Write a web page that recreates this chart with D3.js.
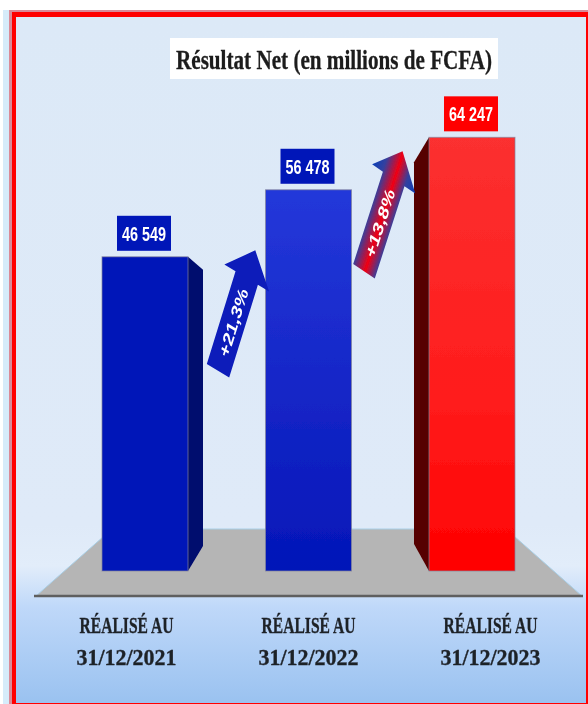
<!DOCTYPE html>
<html>
<head>
<meta charset="utf-8">
<script src="https://cdn.jsdelivr.net/npm/d3@7"></script>
<style>
  html, body { margin: 0; padding: 0; background: #fff; }
  svg { display: block; }
  text { font-family: "Liberation Serif", serif; font-weight: bold; }
  .val, .growth { font-family: "Liberation Sans", sans-serif; fill: #fff; }
</style>
</head>
<body>
<svg width="588" height="704"></svg>
<script>
var periods = ["31/12/2021", "31/12/2022", "31/12/2023"];
var values = [46549, 56478, 64247];
var valueLabels = ["46 549", "56 478", "64 247"];
var growthLabels = ["+21,3%", "+13,8%"];
var categoryPrefix = "RÉALISÉ AU";
var title = "Résultat Net (en millions de FCFA)";

var svg = d3.select("svg"),
    defs = svg.append("defs");

var x = d3.scaleBand().domain(periods).range([102, 515]).paddingInner(0.474);
var y = d3.scaleLinear().domain([0, 70000]).range([571, 98.5]);
var xLabel = d3.scalePoint().domain(periods).range([126, 490]);

function linearGradient(id, stops, attrs) {
  var g = defs.append("linearGradient").attr("id", id);
  Object.keys(attrs).forEach(function(k) { g.attr(k, attrs[k]); });
  stops.forEach(function(s) {
    g.append("stop").attr("offset", s[0]).attr("stop-color", s[1]);
  });
}

var vertical = {x1: 0, y1: 0, x2: 0, y2: 1};
linearGradient("bg", [[0, "#dce9f7"], [0.74, "#dfeaf8"], [0.80, "#e2edfa"], [0.86, "#bfd8f9"], [1, "#9ac2f0"]], vertical);
linearGradient("bar1", [[0, "#0316b8"], [1, "#0316b8"]], vertical);
linearGradient("bar2", [[0, "#2438da"], [0.5, "#1627c8"], [1, "#0316b8"]], vertical);
linearGradient("bar3", [[0, "#fb3030"], [0.6, "#ff1c1c"], [1, "#ff0000"]], vertical);
linearGradient("arrowRed", [[0, "#0b3fb8"], [0.24, "#33409f"], [0.52, "#f20012"], [0.76, "#33409f"], [1, "#0b3fb8"]],
  {gradientUnits: "userSpaceOnUse", x1: 0, y1: -26, x2: 0, y2: 26});

var blur = defs.append("filter").attr("id", "soft")
  .attr("filterUnits", "userSpaceOnUse")
  .attr("x", 0).attr("y", 0)
  .attr("width", 588).attr("height", 704);
blur.append("feGaussianBlur").attr("stdDeviation", 0.6);

var g = svg.append("g").attr("filter", "url(#soft)");

// frame
g.append("rect").attr("width", 588).attr("height", 704).attr("fill", "#fff");
g.append("rect").attr("x", 3).attr("y", 10).attr("width", 7).attr("height", 694).attr("fill", "#d6ebfa");
g.append("rect").attr("x", 9).attr("y", 10).attr("width", 579).attr("height", 694).attr("fill", "#d98a98");
g.append("rect").attr("x", 12).attr("y", 12).attr("width", 576).attr("height", 692).attr("fill", "#ff0000");
g.append("rect").attr("x", 16).attr("y", 17).attr("width", 570).attr("height", 686).attr("fill", "url(#bg)");

// floor
var floorY = y(0) + 25, floorTop = y(0) - 42;
g.append("path")
  .attr("d", d3.line()([[36, floorY], [112, floorTop], [506, floorTop], [582, floorY]]) + "Z")
  .attr("fill", "#b5b5b5")
  .attr("stroke", "#a9cfe6")
  .attr("stroke-width", 1);
g.append("line")
  .attr("x1", 34).attr("x2", 583).attr("y1", floorY).attr("y2", floorY)
  .attr("stroke", "#5f5f5f").attr("stroke-width", 2.6);

// side faces, the first bar on its right and the last one on its left
function sideFace(i) {
  var top = y(values[i]), bottom = y(0);
  if (i === 0) {
    var r = x(periods[i]) + x.bandwidth();
    return d3.line()([[r, top], [r + 15, top + 13], [r + 15, bottom - 25], [r, bottom]]) + "Z";
  }
  var l = x(periods[i]);
  return d3.line()([[l, top], [l - 15, top + 25], [l - 15, bottom - 27], [l, bottom]]) + "Z";
}
g.selectAll(".side").data([0, 2]).enter().append("path")
  .attr("class", "side")
  .attr("d", sideFace)
  .attr("fill", function(i) { return i === 0 ? "#020c6e" : "#560000"; });

// bars
g.selectAll(".bar").data(values).enter().append("rect")
  .attr("class", "bar")
  .attr("x", function(d, i) { return x(periods[i]); })
  .attr("y", function(d) { return y(d); })
  .attr("width", x.bandwidth())
  .attr("height", function(d) { return y(0) - y(d); })
  .attr("fill", function(d, i) { return "url(#bar" + (i + 1) + ")"; })
  .attr("stroke", "#85859a")
  .attr("stroke-opacity", 0.7)
  .attr("stroke-width", 1);

// value boxes
var boxes = g.selectAll(".box").data(values).enter().append("g").attr("class", "box")
  .attr("transform", function(d, i) {
    return "translate(" + (x(periods[i]) + x.bandwidth() / 2 - 1) + "," + (y(d) - 23) + ")";
  });
boxes.append("rect")
  .attr("x", -27).attr("y", -18).attr("width", 54).attr("height", 35)
  .attr("fill", function(d, i) { return i === 2 ? "#ff0000" : "#0316b8"; });
boxes.append("text")
  .attr("class", "val")
  .attr("text-anchor", "middle")
  .attr("y", 7)
  .attr("font-size", 21)
  .attr("textLength", 44)
  .attr("lengthAdjust", "spacingAndGlyphs")
  .text(function(d, i) { return valueLabels[i]; });

// growth arrows, skewed like the squeezed picture they come from
var arrowShape = [[0, -13], [97, -13], [97, -26], [126, 0], [97, 26], [97, 13], [0, 13]];
var arrows = [
  {fill: "#0a1dba", m: [0.296, -0.956, 0.86, 0.52], dx: x(periods[0]) + x.bandwidth() + 30, dy: y(values[0]) + 114},
  {fill: "url(#arrowRed)", m: [0.306, -0.952, 0.83, 0.56], dx: x(periods[1]) + x.bandwidth() + 12.5, dy: y(values[1]) + 81.5}
];
var arrow = g.selectAll(".arrow").data(arrows).enter().append("g").attr("class", "arrow")
  .attr("transform", function(d) {
    return "matrix(" + d.m.join(",") + "," + d.dx + "," + d.dy + ")";
  });
arrow.append("path")
  .attr("d", d3.line()(arrowShape) + "Z")
  .attr("fill", function(d) { return d.fill; });
arrow.append("text")
  .attr("class", "growth")
  .attr("x", 51).attr("y", 6)
  .attr("text-anchor", "middle")
  .attr("font-size", 16)
  .attr("textLength", 70)
  .attr("lengthAdjust", "spacingAndGlyphs")
  .text(function(d, i) { return growthLabels[i]; });

// title
g.append("rect").attr("x", 170).attr("y", 38).attr("width", 328).attr("height", 41).attr("fill", "#fff");
g.append("text")
  .attr("x", 176).attr("y", 69)
  .attr("font-size", 27)
  .attr("fill", "#1c1c1c")
  .attr("stroke", "#1c1c1c")
  .attr("stroke-width", 0.3)
  .attr("textLength", 316)
  .attr("lengthAdjust", "spacingAndGlyphs")
  .text(title);

// category labels
var axis = g.append("g")
  .attr("transform", "translate(0," + (floorY + 37) + ")")
  .call(d3.axisBottom(xLabel).tickSize(0).tickPadding(0));
axis.select(".domain").remove();
axis.selectAll("text").remove();
axis.selectAll(".tick").each(function(d) {
  var t = d3.select(this).append("text")
    .attr("text-anchor", "middle")
    .attr("fill", "#1f2228")
    .attr("stroke", "#1f2228")
    .attr("stroke-width", 0.35)
    .attr("font-size", 24);
  t.append("tspan").attr("x", 0).attr("y", 0)
    .attr("textLength", 94).attr("lengthAdjust", "spacingAndGlyphs")
    .text(categoryPrefix);
  t.append("tspan").attr("x", 0).attr("y", 32)
    .attr("textLength", 100).attr("lengthAdjust", "spacingAndGlyphs")
    .text(d);
});
</script>
</body>
</html>
